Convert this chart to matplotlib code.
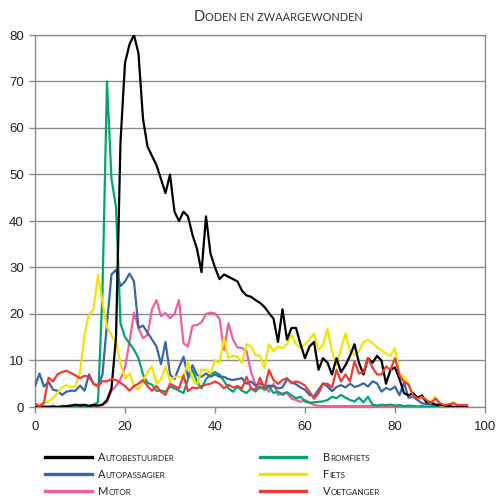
import numpy as np
import matplotlib
matplotlib.use("Agg")
import matplotlib.pyplot as plt
from matplotlib.lines import Line2D

ages = list(range(0, 97))

autobestuurder = [0, 0, 0, 0, 0, 0, 0, 0.2, 0.3, 0.5, 0.3, 0.5, 0.2, 0.4, 0.3, 0.5, 1.5, 4, 15, 57,
                  74, 78, 80, 76, 62, 56, 54, 52, 49, 46, 50, 42, 40, 42, 41, 37, 34, 29, 41, 33,
                  30, 27.5, 28.5, 28, 27.5, 27, 25, 24, 23.7, 23, 22.4, 21.5, 20.2, 19, 14, 21, 14.5, 17, 17, 13.5,
                  10.5, 13, 14, 8, 10.5, 9.5, 7, 10.5, 7.5, 9, 11, 13.5, 9.5, 7, 10.5, 9.5, 11, 10, 5, 8,
                  8.5, 6, 3, 2.5, 3, 2, 2.5, 1, 1, 0.5, 0.5, 0.3, 0.2, 0, 0, 0, 0]

autopassagier = [4.5, 7.2, 4.4, 5.4, 3.7, 3.5, 2.6, 3.3, 3.5, 3.5, 4.6, 3.5, 7, 5, 4.5, 7, 18, 28.5, 29.5, 26,
                 27, 28.7, 27, 17, 17.5, 16, 14.5, 13, 9.2, 14, 7, 6, 8.5, 10.8, 6.5, 9, 6.9, 6.5, 7.2, 6.5,
                 7, 6.5, 6.5, 6, 5.8, 6, 6.2, 5, 5.5, 4.6, 5.1, 4.5, 4.6, 4.5, 4, 4.2, 6, 5.3, 4.9, 4.2,
                 3.7, 2.6, 2.3, 3.7, 5.1, 4.4, 3.4, 4.3, 4.7, 4.2, 5, 4.3, 4.6, 5.1, 4.4, 5.5, 5.1, 3.3, 4.1, 3.7,
                 4.4, 2.5, 5.3, 2, 2.2, 1.5, 0.8, 0.6, 0.5, 0.4, 0.3, 0, 0, 0, 0, 0, 0]

motor = [0, 0, 0, 0, 0, 0, 0, 0, 0, 0, 0, 0, 0, 0, 0.3, 0.5, 1, 3.5, 4.5, 6,
         8.5, 14, 20.3, 17, 14.8, 15.5, 21, 23, 19.5, 20.2, 19.1, 20, 23, 13.7, 13, 17.5, 17.6, 18.2, 20, 20.3,
         20.1, 19, 12.3, 18, 14.5, 12.8, 12.7, 12, 7.5, 4.8, 4, 4.3, 3.3, 5, 2.6, 3, 3, 1.8, 1.5, 1.1,
         1.5, 1, 0.4, 0.3, 0.2, 0.2, 0.2, 0.2, 0.2, 0.2, 0.2, 0.2, 0.2, 0.2, 0.2, 0.2, 0.2, 0.2, 0.2, 0.2,
         0.2, 0.1, 0.1, 0, 0, 0, 0, 0, 0, 0, 0, 0, 0, 0, 0, 0, 0]

bromfiets = [0.3, 0, 0.2, 0, 0.3, 0, 0.3, 0.1, 0.3, 0.2, 0.5, 0.2, 0.3, 0.5, 1, 25, 70, 49, 43, 18,
             15, 13.7, 12.3, 10.5, 7, 5.2, 4.8, 3.5, 3.5, 3.3, 4.4, 4, 3.5, 3, 6, 8, 5.5, 4, 6, 7,
             7.5, 7, 5.6, 4, 3.3, 4.4, 3.5, 3, 4, 3.3, 4.4, 3.7, 4.4, 3, 3.3, 2.6, 3.2, 2.5, 1.9, 2.2,
             1.2, 0.9, 1, 1.1, 1.2, 1.5, 2.2, 1.9, 2.6, 2, 1.5, 1.2, 2, 1, 2.2, 0.5, 0.3, 0.5, 0.4, 0.5,
             0.3, 0.4, 0.2, 0.3, 0.2, 0.1, 0.2, 0, 0, 0, 0, 0, 0, 0, 0, 0, 0]

fiets = [0.1, 0.5, 0.7, 1.2, 1.9, 3, 4.2, 4.7, 4.3, 4.5, 7.5, 15.5, 20, 21, 28.4, 22.5, 17.2, 15.4, 14, 9.5,
         6.1, 7.2, 4.5, 3.8, 5.5, 7.5, 8.7, 5, 6, 8.7, 5.5, 6.5, 6.5, 6.5, 9.7, 6, 4.8, 8, 8, 7.2,
         10.1, 9.5, 14.8, 10.5, 11, 10.8, 9.5, 13.5, 13, 11.2, 11, 8.4, 13.5, 12, 13, 12.7, 13.5, 15.5, 13.5, 12.7,
         13.5, 14.5, 15.8, 12.3, 13.3, 16.8, 12, 9, 12.5, 15.8, 12, 11.2, 12, 14, 14.4, 13.8, 12.8, 12.2, 11.5, 11,
         12.7, 7, 6.5, 5, 2.4, 2.1, 1.8, 1.3, 1.1, 2.2, 0.4, 0, 0.4, 1.1, 0, 0, 0]

voetganger = [0.8, 0.1, 1, 6.3, 5.5, 7, 7.5, 7.8, 7.3, 6.8, 6.2, 6.7, 6.5, 5, 4.4, 5.6, 5.5, 6, 5.8, 5.2,
              4.5, 3.5, 4.5, 5, 5.8, 4.5, 3.5, 4.5, 3.3, 2.6, 5, 4.5, 4, 6.8, 3.4, 4.2, 4, 4.5, 4.8, 5,
              5.5, 5, 4, 4.8, 4.2, 4.5, 4, 6.5, 4, 3.7, 6.3, 4, 8, 5.8, 5, 5.8, 6.2, 5.1, 5.5, 5.2,
              4.6, 3.3, 1.8, 3, 5, 5, 4.2, 8, 5.5, 7, 5.5, 9.8, 7.2, 7.5, 10.5, 8.5, 7, 7, 8.7, 8,
              10.5, 6.8, 5.5, 4.8, 2.5, 1.8, 2.2, 1.5, 0.8, 1.8, 0.8, 0.4, 0.6, 0.8, 0.4, 0.4, 0.4]

series_names = ["Autobestuurder", "Autopassagier", "Motor", "Bromfiets", "Fiets", "Voetganger"]
series_values = [autobestuurder, autopassagier, motor, bromfiets, fiets, voetganger]
series_colors = ["#000000", "#3b64ad", "#ee5ea0", "#00a66e", "#f0e400", "#ee3b36"]

x_ticks = [0, 20, 40, 60, 80, 100]
y_ticks = [0, 10, 20, 30, 40, 50, 60, 70, 80]
title_text = "Doden en zwaargewonden"

W, H = 497, 498
fig = plt.figure(figsize=(W / 100, H / 100), dpi=100)
ax = fig.add_axes([35 / W, 1 - 407 / H, 450 / W, 372 / H])

grid_col = "#8c8c8c"
draw_order = [2, 3, 1, 4, 0, 5]
for z, i in enumerate(draw_order):
    ax.plot(ages, series_values[i], color=series_colors[i], lw=1.6,
            solid_joinstyle="round", zorder=3 + z)

ax.set_xlim(0, 100)
ax.set_ylim(0, 80)
ax.set_xticks(x_ticks)
ax.set_yticks(y_ticks)
ax.yaxis.grid(True, color=grid_col, lw=1.0)
ax.set_axisbelow(True)
for s in ax.spines.values():
    s.set_color(grid_col)
    s.set_linewidth(1.0)
ax.tick_params(axis="both", colors=grid_col, length=4, width=1.0, labelsize=9.5)
for lab in ax.get_xticklabels() + ax.get_yticklabels():
    lab.set_color("#222222")
    lab.set_family("Liberation Sans")
ax.tick_params(axis="x", pad=6)
ax.tick_params(axis="y", pad=4)


def smallcaps(x_px, y_px, text, big, small, color):
    """Draw text in small caps starting at pixel (x_px, baseline y_px)."""
    pieces = []
    cur = ""
    cur_up = None
    for ch in text:
        up = ch.isupper()
        if cur_up is None:
            cur, cur_up = ch, up
        elif up == cur_up or ch == " ":
            cur += ch
        else:
            pieces.append((cur, cur_up))
            cur, cur_up = ch, up
    pieces.append((cur, cur_up))
    prev = None
    for txt, up in pieces:
        size = big if up else small
        if prev is None:
            prev = fig.text(x_px / W, 1 - y_px / H, txt.upper(), fontsize=size, color=color,
                            family="Lato", va="baseline", ha="left")
        else:
            prev = ax.annotate(txt.upper(), xy=(1, 0), xycoords=prev,
                               xytext=(0, 0.45), textcoords="offset points",
                               fontsize=size, color=color,
                               family="Lato", va="bottom", ha="left", annotation_clip=False)


smallcaps(194, 21, title_text, 10.5, 7.9, "#333333")

leg_rows = [457, 474, 491]
leg_cols = [(45, 92, 98), (260, 306, 323)]
for k, name in enumerate(series_names):
    col = k // 3
    row = k % 3
    x0, x1, xt = leg_cols[col]
    yy = 1 - leg_rows[row] / H
    fig.add_artist(Line2D([x0 / W, x1 / W], [yy, yy], color=series_colors[k], lw=2.4,
                          transform=fig.transFigure))
    smallcaps(xt, leg_rows[row] + 4, name, 8, 5.9, "#222222")

fig.savefig("out.png", dpi=100)
